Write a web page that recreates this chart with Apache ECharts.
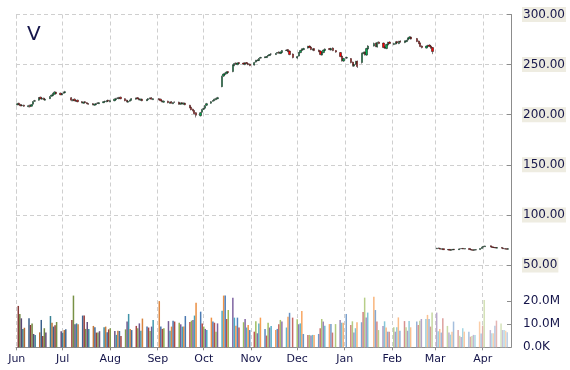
<!DOCTYPE html>
<html><head><meta charset="utf-8">
<script src="https://cdn.jsdelivr.net/npm/echarts@6/dist/echarts.min.js"></script>
<style>html,body{margin:0;padding:0;background:#fff}#c{width:570px;height:370px}</style>
</head><body><div id="c"></div>
<script>
var title = 'V';
var dates = [
'2014-06-02','2014-06-03','2014-06-04','2014-06-05','2014-06-06','2014-06-09','2014-06-10','2014-06-11','2014-06-12','2014-06-13','2014-06-16','2014-06-17','2014-06-18','2014-06-19','2014-06-20','2014-06-23','2014-06-24','2014-06-25','2014-06-26','2014-06-27','2014-06-30',
'2014-07-01','2014-07-02','2014-07-03','2014-07-07','2014-07-08','2014-07-09','2014-07-10','2014-07-11','2014-07-14','2014-07-15','2014-07-16','2014-07-17','2014-07-18','2014-07-21','2014-07-22','2014-07-23','2014-07-24','2014-07-25','2014-07-28','2014-07-29','2014-07-30','2014-07-31',
'2014-08-01','2014-08-04','2014-08-05','2014-08-06','2014-08-07','2014-08-08','2014-08-11','2014-08-12','2014-08-13','2014-08-14','2014-08-15','2014-08-18','2014-08-19','2014-08-20','2014-08-21','2014-08-22','2014-08-25','2014-08-26','2014-08-27','2014-08-28','2014-08-29',
'2014-09-02','2014-09-03','2014-09-04','2014-09-05','2014-09-08','2014-09-09','2014-09-10','2014-09-11','2014-09-12','2014-09-15','2014-09-16','2014-09-17','2014-09-18','2014-09-19','2014-09-22','2014-09-23','2014-09-24','2014-09-25','2014-09-26','2014-09-29','2014-09-30',
'2014-10-01','2014-10-02','2014-10-03','2014-10-06','2014-10-07','2014-10-08','2014-10-09','2014-10-10','2014-10-13','2014-10-14','2014-10-15','2014-10-16','2014-10-17','2014-10-20','2014-10-21','2014-10-22','2014-10-23','2014-10-24','2014-10-27','2014-10-28','2014-10-29','2014-10-30','2014-10-31',
'2014-11-03','2014-11-04','2014-11-05','2014-11-06','2014-11-07','2014-11-10','2014-11-11','2014-11-12','2014-11-13','2014-11-14','2014-11-17','2014-11-18','2014-11-19','2014-11-20','2014-11-21','2014-11-24','2014-11-25','2014-11-26','2014-11-28',
'2014-12-01','2014-12-02','2014-12-03','2014-12-04','2014-12-05','2014-12-08','2014-12-09','2014-12-10','2014-12-11','2014-12-12','2014-12-15','2014-12-16','2014-12-17','2014-12-18','2014-12-19','2014-12-22','2014-12-23','2014-12-24','2014-12-26','2014-12-29','2014-12-30','2014-12-31',
'2015-01-02','2015-01-05','2015-01-06','2015-01-07','2015-01-08','2015-01-09','2015-01-12','2015-01-13','2015-01-14','2015-01-15','2015-01-16','2015-01-20','2015-01-21','2015-01-22','2015-01-23','2015-01-26','2015-01-27','2015-01-28','2015-01-29','2015-01-30',
'2015-02-02','2015-02-03','2015-02-04','2015-02-05','2015-02-06','2015-02-09','2015-02-10','2015-02-11','2015-02-12','2015-02-13','2015-02-17','2015-02-18','2015-02-19','2015-02-20','2015-02-23','2015-02-24','2015-02-25','2015-02-26','2015-02-27',
'2015-03-02','2015-03-03','2015-03-04','2015-03-05','2015-03-06','2015-03-09','2015-03-10','2015-03-11','2015-03-12','2015-03-13','2015-03-16','2015-03-17','2015-03-18','2015-03-19','2015-03-20','2015-03-23','2015-03-24','2015-03-25','2015-03-26','2015-03-27','2015-03-30','2015-03-31',
'2015-04-01','2015-04-02','2015-04-06','2015-04-07','2015-04-08','2015-04-09','2015-04-10','2015-04-13','2015-04-14','2015-04-15','2015-04-16','2015-04-17'
];
var opens = [
210,211.5,210,209,209.5,208,209.5,208.5,210.5,213.5,214.5,217.5,215.5,216.5,214.5,216,218.5,219,220.5,222.5,221.5,
220,221.5,222,217,214,215.5,213.5,214.5,213,211.5,213,212,211,211,209.5,210,211.5,211,212,213,213,214.5,
213,214,215,216.5,216,217.5,216,214.5,212.5,213.5,214.5,215.5,217,216,214.5,215.5,214,215,216,217,215,
216,215.5,214,212.5,213.5,211.5,213,211,212.5,212.5,210.5,212,210.5,211.5,209.5,207.5,205.5,204,202,199,202.5,
205.5,206.5,209.5,211.5,213.5,214,215,216,228,238.5,240,241,243,243,249,251.5,250,252,251.5,250,252,251,250.5,
249.5,252.5,254,254,256.5,257,257,258.5,259,260.5,260,261.5,262.5,261,262,264,265,263.5,260.5,
256.5,258.5,262,264,265,266.5,268.5,267.5,264.5,266,264.5,263.5,259.5,262,264,266,264.5,266.5,264,262,258.5,253.5,
256.5,256,252.5,248.5,250.5,253.5,252,261,262.5,259.5,265.5,268.5,271.5,267.5,272.5,271.5,267.5,266,269.5,272.5,
270,270.5,273,271,273.5,272,273,274.5,276,277.5,276,273.5,271.5,268.5,266.5,268.5,269.5,268.5,267,
66.2,67.0,66.6,65.7,66.3,65.1,65.6,64.7,65.1,65.8,65.3,66.1,66.2,66.6,65.9,66.5,65.5,65.1,64.7,65.0,65.4,66.4,
67.9,68.3,69.2,68.1,67.6,67.5,66.8,67.5,66.9,66.3,66.2,65.7
];
var closes = [
211,210,209,209.5,208.5,209,208,210,213,214,217,216,216.5,215,215.5,218,219.5,221,222.5,221,220,
221,222.5,223,214.5,215,214,214,213,212,212.5,212,211,210.5,210,210.5,211,211.5,212,213,213.5,214,213.5,
214,215.5,216,216.5,217,216,214,213,213.5,214.5,216,216.5,216,215,215.5,214,215,216,216.5,215.5,216,
215,214,213,213.5,212,212.5,211.5,212,212.5,210.5,211.5,211,211.5,210,207,205,204,201,199.5,202,205,
206,209,211,213,214,215.5,216,217,238,240.5,241,242.5,242,249.5,251,250.5,251.5,251,250.5,251.5,251,250,249,
252,254,254.5,256,257,257.5,258,259,260,260.5,261,262,261.5,262.5,264,264.5,263,260,257,
258,262,264,265.5,266,268,267,265,265.5,264,263,260,262,264.5,265.5,265,266,264,262.5,258,254,256,
257,252,249,250,253,248,261,262,260,266,268.5,271,268,272,271,267,266.5,270,272,271,
271,272.5,271.5,273,272.5,273.5,274,276.5,277.5,275.5,273,271,268,267,268.5,269,268,266.5,263,
66.8,66.5,65.8,66.2,65.3,65.5,64.8,65.0,65.6,65.2,66.0,66.3,66.5,66.0,66.4,65.4,65.0,64.8,65.1,65.3,66.5,67.8,
68.5,69.0,68.0,67.5,67.3,67.0,67.4,66.8,66.2,66.0,65.8,66.3
];
var highs = [
211.8,212.0,210.8,210.2,210.0,209.8,210.0,210.6,213.6,214.8,217.6,218.0,217.2,217.0,216.2,218.6,220.2,221.8,223.4,223.0,222.0,
221.6,223.0,223.8,217.6,215.8,216.2,214.6,215.0,213.6,213.0,213.6,212.6,211.6,211.6,211.0,211.6,212.2,212.6,213.6,214.0,214.6,215.0,
214.8,216.2,216.8,217.2,217.8,218.0,216.4,215.0,214.2,215.0,216.6,217.0,217.6,216.4,216.0,216.0,215.6,216.6,217.2,217.6,216.6,
216.6,216.0,214.6,214.2,214.0,213.0,213.6,212.6,213.2,213.0,212.2,212.6,212.2,212.0,209.8,208.0,206.0,204.6,202.6,202.8,205.8,
206.8,209.6,211.8,213.6,214.6,216.2,216.8,217.8,239.0,241.4,242.0,243.4,243.6,250.4,251.8,252.2,252.2,252.6,252.0,252.4,252.6,251.6,251.0,
252.8,254.8,255.4,256.6,257.8,258.2,258.6,259.6,260.6,261.4,261.6,262.6,263.2,263.2,264.6,265.2,265.6,264.2,261.2,
258.8,262.6,264.8,266.2,266.8,268.8,269.0,268.0,266.2,266.6,265.0,264.2,262.8,265.2,266.2,266.6,266.8,267.2,264.6,262.6,259.0,256.8,
258.0,256.6,253.0,251.0,253.8,254.0,262.0,263.0,263.2,266.8,269.4,272.0,271.8,272.8,273.2,272.0,268.2,270.8,272.8,273.2,
271.8,273.2,273.6,273.8,274.2,274.2,274.8,277.0,278.4,278.2,276.6,274.0,272.0,269.2,269.2,269.8,270.2,269.2,267.6,
67.1,67.3,66.8,66.5,66.5,65.8,65.8,65.3,65.8,66.0,66.2,66.5,66.8,66.9,66.6,66.7,65.8,65.3,65.4,65.5,66.8,68.1,
68.8,69.3,69.5,68.4,67.9,67.7,67.6,67.7,67.1,66.5,66.4,66.6
];
var lows = [
209.4,209.5,208.4,208.4,207.8,207.4,207.2,208.0,210.0,213.0,214.0,215.4,215.0,214.6,214.0,215.6,218.0,218.6,220.0,220.4,219.4,
219.4,221.0,221.6,213.4,213.4,213.4,213.0,212.4,211.4,211.0,211.4,210.6,210.0,209.4,209.0,209.6,210.8,210.6,211.6,212.6,212.4,212.8,
212.4,213.4,214.4,215.8,215.4,215.4,213.4,212.4,212.0,213.0,214.0,215.0,215.4,214.4,214.0,213.4,213.6,214.4,215.4,215.0,214.6,
214.4,213.4,212.4,212.0,211.4,211.0,211.0,210.6,211.8,210.0,210.0,210.4,210.0,209.4,206.4,204.4,203.4,200.4,197.2,198.2,202.0,
204.6,205.8,208.6,210.8,213.0,213.6,214.4,215.4,227.4,237.6,239.4,240.4,241.2,242.4,248.4,249.8,249.4,250.4,249.8,249.4,250.4,249.4,248.4,
249.0,252.0,253.4,253.6,256.0,256.4,256.6,258.0,258.6,259.8,259.6,261.0,260.8,260.6,261.6,263.6,262.4,259.4,256.2,
255.8,258.0,261.4,263.6,264.4,266.0,266.4,264.4,264.0,263.4,262.4,259.4,259.0,261.4,263.6,264.4,264.0,263.4,261.8,257.4,253.0,252.8,
255.8,251.2,248.0,247.6,249.8,246.6,251.0,260.4,259.0,258.8,265.0,268.0,267.4,267.0,270.4,266.4,265.6,265.4,269.0,270.4,
269.4,270.0,271.0,270.4,271.8,271.4,272.4,274.0,275.4,275.0,272.4,270.4,267.4,266.2,266.0,267.8,267.4,265.8,260.4,
65.9,66.2,65.5,65.5,65.0,65.0,64.6,64.5,64.9,65.0,65.1,65.9,66.0,65.8,65.7,65.2,64.8,64.6,64.5,64.8,65.2,66.2,
67.6,68.1,67.8,67.3,67.0,66.8,66.6,66.6,66.0,65.8,65.6,65.5
];
// volume in millions
var volumes = [
18.0,14.5,12.6,8.0,8.5,12.6,9.7,10.4,5.8,5.4,6.5,11.9,4.9,8.3,6.4,13.6,10.7,9.0,9.6,11.0,7.0,
6.4,7.5,7.8,11.9,22.5,10.0,10.4,10.0,13.8,13.8,8.0,11.0,8.0,9.3,8.7,6.4,6.4,7.0,8.7,9.0,6.5,7.8,
8.3,7.1,5.4,7.2,7.1,4.9,7.8,11.2,14.5,8.0,7.5,9.3,8.3,10.4,7.2,12.5,9.0,8.6,7.1,9.0,11.9,
20.1,9.0,8.0,8.3,11.4,7.2,9.0,11.6,11.2,10.7,10.0,9.0,9.0,13.6,11.0,11.6,11.9,13.8,19.4,15.5,10.4,
9.0,8.0,7.5,12.9,11.2,10.7,6.8,10.4,15.9,22.5,22.5,12.3,16.2,21.6,12.9,9.4,12.9,8.6,10.9,12.3,8.6,9.7,7.5,
6.8,11.3,6.1,10.4,12.9,8.0,5.1,10.7,8.6,9.3,7.5,8.0,10.0,11.9,11.2,8.6,13.3,15.0,12.9,
12.2,10.0,10.4,15.8,5.8,5.4,5.4,5.1,5.4,5.4,5.8,8.3,12.3,11.2,9.4,10.1,10.1,6.4,10.1,11.9,10.7,10.7,
14.5,9.7,11.3,6.4,8.3,10.9,10.9,15.4,21.6,13.0,15.1,22.0,16.2,11.2,7.5,9.3,11.3,8.6,6.8,6.8,
8.7,6.8,8.7,13.0,7.2,11.4,8.7,7.2,11.4,8.7,11.2,9.7,11.6,12.3,12.3,14.1,12.3,9.0,15.1,
15.1,7.0,8.0,6.4,12.6,9.3,6.4,5.5,6.8,11.2,7.5,5.0,4.5,8.3,6.8,6.8,4.6,4.9,5.4,5.4,11.2,6.0,
9.4,20.6,7.5,6.1,6.1,9.4,11.6,10.4,7.5,7.5,7.2,6.5
];
var priceTicks = [50, 300, 50];        // min, max, interval
var volumeTickLabels = [0, 10, 20];    // millions
var monthNames = ['Jan','Feb','Mar','Apr','May','Jun','Jul','Aug','Sep','Oct','Nov','Dec'];
var axisStart = '2014-06-01', axisEnd = '2015-04-19';

var palette = ['#4F81BD','#C0504D','#9BBB59','#8064A2','#4BACC6','#F79646'];
function shade(hex, f) {
  var r = parseInt(hex.substr(1,2),16), g = parseInt(hex.substr(3,2),16), b = parseInt(hex.substr(5,2),16);
  function m(c){ return Math.round(f < 0 ? c*(1+f) : c + (255-c)*f); }
  return 'rgb(' + m(r) + ',' + m(g) + ',' + m(b) + ')';
}
var n = dates.length;
var candleData = dates.map(function(d,i){ return [d, opens[i], closes[i], lows[i], highs[i]]; });
var volData = dates.map(function(d,i){
  var t = i/(n-1);
  var f = t < 0.45 ? (t-0.45)/0.45*0.3 : (t-0.45)/0.55*0.6;
  return { value: [d, volumes[i]], itemStyle: { color: shade(palette[(i+1)%6], f) } };
});

var navy = '#15154a';
var grayLine = '#8c8c8c';
var split = { show: true, lineStyle: { color: '#cfcfcf', type: [4,3], width: 1 } };
var chart = echarts.init(document.getElementById('c'), null, {renderer:'canvas'});
chart.setOption({
  animation: false,
  backgroundColor: '#fff',
  title: { text: title, left: 22, top: 20, textStyle: { fontFamily: 'DejaVu Sans', fontSize: 20, fontWeight: 'normal', color: navy } },
  grid: [
    { left: 16, right: 59, top: 14.5, height: 250.5 },
    { left: 16, right: 59, top: 265, bottom: 22.7 }
  ],
  xAxis: [
    { type: 'time', gridIndex: 0, min: axisStart, max: axisEnd, splitNumber: 12,
      axisLine: { show: false }, axisTick: { show: false }, axisLabel: { show: false }, splitLine: split },
    { type: 'time', gridIndex: 1, min: axisStart, max: axisEnd, splitNumber: 12,
      axisLine: { show: true, lineStyle: { color: grayLine } },
      axisTick: { show: true, length: 3, lineStyle: { color: grayLine } },
      axisLabel: { show: true, margin: 6, fontFamily: 'DejaVu Sans', fontSize: 11, color: navy,
        formatter: function(v){ return monthNames[new Date(v).getMonth()]; } },
      splitLine: split }
  ],
  yAxis: [
    { type: 'value', gridIndex: 0, position: 'right', min: priceTicks[0], max: priceTicks[1], interval: priceTicks[2],
      axisLine: { show: true, lineStyle: { color: grayLine } },
      axisTick: { show: true, inside: true, length: 4, lineStyle: { color: grayLine } },
      axisLabel: { margin: 11, fontFamily: 'DejaVu Sans', fontSize: 12, color: navy, backgroundColor: '#EEECE1', padding: [2,1,1,1],
        formatter: function(v){ return v.toFixed(2); } },
      splitLine: split },
    { type: 'value', gridIndex: 1, position: 'right', min: 0, max: 35.8,
      axisLine: { show: true, lineStyle: { color: grayLine } },
      axisTick: { show: true, inside: true, length: 4, lineStyle: { color: grayLine }, customValues: volumeTickLabels },
      axisLabel: { margin: 12, fontFamily: 'DejaVu Sans', fontSize: 12, color: navy, customValues: volumeTickLabels,
        formatter: function(v){ return v === 0 ? '0.0K' : v.toFixed(1) + 'M'; } },
      splitLine: { show: false } }
  ],
  series: [
    { type: 'candlestick', xAxisIndex: 0, yAxisIndex: 0, data: candleData, barWidth: 1.8,
      itemStyle: { color: '#00b050', color0: '#ff0000', borderColor: '#111', borderColor0: '#111', borderWidth: 0.5 } },
    { type: 'bar', xAxisIndex: 1, yAxisIndex: 1, data: volData, barWidth: 1.5 }
  ]
});
</script></body></html>
